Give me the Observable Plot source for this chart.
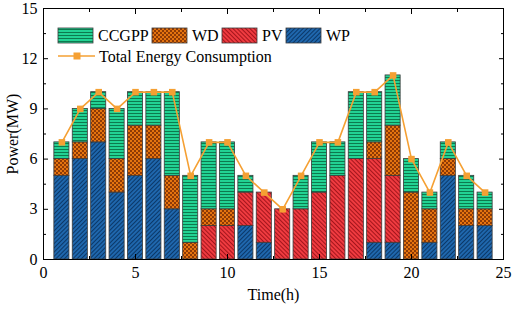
<!DOCTYPE html>
<html><head><meta charset="utf-8">
<script src="https://cdn.jsdelivr.net/npm/d3@7"></script>
<script src="https://cdn.jsdelivr.net/npm/@observablehq/plot@0.6"></script>
<style>
body{margin:0;background:#fff;}
#wrap{position:relative;width:512px;height:311px;}
</style></head><body><div id="wrap"></div>
<script>
const hours = d3.range(1, 25);
const WP    = [5,6,7,4,5,6,3,0,0,0,2,1,0,0,0,0,0,1,1,0,1,5,2,2];
const PV    = [0,0,0,0,0,0,0,0,2,2,2,3,3,3,4,5,6,5,4,0,0,0,0,0];
const WD    = [1,1,2,2,3,2,2,1,1,1,0,0,0,0,0,0,0,1,3,4,2,1,1,1];
const CCGPP = [1,2,1,3,2,2,5,4,4,4,1,0,0,2,3,2,4,3,3,2,1,1,2,1];
const total = [7,9,10,9,10,10,10,5,7,7,5,4,3,5,7,7,10,10,11,6,4,7,5,4];
const xMajor = [0,5,10,15,20,25];
const xMinor = [2.5,7.5,12.5,17.5,22.5];
const yMajor = [0,3,6,9,12,15];
const yMinor = [1.5,4.5,7.5,10.5,13.5];

const seriesOrder = ["WP","PV","WD","CCGPP"];
const seriesVals = {WP, PV, WD, CCGPP};
const rows = [];
hours.forEach((h, i) => {
  let acc = 0;
  for (const s of seriesOrder) {
    const v = seriesVals[s][i];
    if (v > 0) rows.push({hour: h, series: s, y1: acc, y2: acc + v});
    acc += v;
  }
});
const lineData = hours.map((h, i) => ({hour: h, total: total[i]}));

const half = 0.41;
const barMark = s => Plot.rectY(rows.filter(d => d.series === s), {
  x1: d => d.hour - half, x2: d => d.hour + half, y1: "y1", y2: "y2",
  fill: `url(#p-${s})`, stroke: "#3a3a3a", strokeWidth: 0.8
});
const lineColor = "#f5a033";
const font = "Liberation Serif, Times New Roman, serif";

const chart = Plot.plot({
  width: 512, height: 311,
  marginLeft: 43, marginRight: 9, marginTop: 8, marginBottom: 52,
  style: {fontFamily: font, fontSize: "16px", color: "#000", background: "#fff"},
  x: {domain: [0, 25]},
  y: {domain: [0, 15]},
  marks: [
    ...seriesOrder.map(barMark),
    Plot.line(lineData, {x: "hour", y: "total", stroke: lineColor, strokeWidth: 1.6}),
    Plot.dot(lineData, {x: "hour", y: "total", symbol: "square", r: 3.7, fill: lineColor, stroke: "none"}),
    Plot.frame({stroke: "#000", strokeWidth: 1}),
    Plot.axisX({anchor: "bottom", ticks: xMajor, tickSize: -5, tickPadding: 12, label: "Time(h)", labelAnchor: "center", labelOffset: 40, labelArrow: "none", fontSize: 16}),
    Plot.axisX({anchor: "bottom", ticks: xMinor, tickSize: -3, tickFormat: () => "", label: null}),
    Plot.axisX({anchor: "top", ticks: xMajor, tickSize: -5, tickFormat: () => "", label: null}),
    Plot.axisX({anchor: "top", ticks: xMinor, tickSize: -3, tickFormat: () => "", label: null}),
    Plot.axisY({anchor: "left", ticks: yMajor, tickSize: -5, tickPadding: 11, label: "Power(MW)", labelAnchor: "center", labelOffset: 37, labelArrow: "none", fontSize: 16}),
    Plot.axisY({anchor: "left", ticks: yMinor, tickSize: -3, tickFormat: () => "", label: null}),
    Plot.axisY({anchor: "right", ticks: yMajor, tickSize: -5, tickFormat: () => "", label: null}),
    Plot.axisY({anchor: "right", ticks: yMinor, tickSize: -3, tickFormat: () => "", label: null})
  ]
});
document.getElementById("wrap").appendChild(chart);

const svg = d3.select(chart);
const defs = svg.insert("defs", ":first-child");
// CCGPP: horizontal stripes
let p = defs.append("pattern").attr("id", "p-CCGPP").attr("patternUnits", "userSpaceOnUse").attr("width", 4).attr("height", 3);
p.append("rect").attr("width", 4).attr("height", 3).attr("fill", "#22d293");
p.append("rect").attr("y", 2).attr("width", 4).attr("height", 1).attr("fill", "#0c7a4e");
// WD: checker
p = defs.append("pattern").attr("id", "p-WD").attr("patternUnits", "userSpaceOnUse").attr("width", 4).attr("height", 4);
p.append("rect").attr("width", 4).attr("height", 4).attr("fill", "#e5740f");
p.append("rect").attr("width", 2).attr("height", 2).attr("fill", "#8e3a06");
p.append("rect").attr("x", 2).attr("y", 2).attr("width", 2).attr("height", 2).attr("fill", "#8e3a06");
// PV: diagonal "\"
p = defs.append("pattern").attr("id", "p-PV").attr("patternUnits", "userSpaceOnUse").attr("width", 3).attr("height", 3).attr("patternTransform", "rotate(-45)");
p.append("rect").attr("width", 3).attr("height", 3).attr("fill", "#ef3b40");
p.append("rect").attr("width", 1).attr("height", 3).attr("fill", "#a3151c");
// WP: diagonal "/"
p = defs.append("pattern").attr("id", "p-WP").attr("patternUnits", "userSpaceOnUse").attr("width", 3).attr("height", 3).attr("patternTransform", "rotate(45)");
p.append("rect").attr("width", 3).attr("height", 3).attr("fill", "#1f67ad");
p.append("rect").attr("width", 1).attr("height", 3).attr("fill", "#0b3868");

// Legend
const leg = svg.append("g").attr("font-family", font).attr("font-size", 16).attr("text-anchor", "start").attr("fill", "#000");
const legItems = [
  {s: "CCGPP", x: 58}, {s: "WD", x: 152}, {s: "PV", x: 222}, {s: "WP", x: 286}
];
legItems.forEach(it => {
  leg.append("rect").attr("x", it.x).attr("y", 28).attr("width", 35).attr("height", 15)
    .attr("fill", `url(#p-${it.s})`).attr("stroke", "#3a3a3a").attr("stroke-width", 0.8);
  leg.append("text").attr("x", it.x + 40).attr("y", 41).attr("text-anchor", "start").text(it.s);
});
leg.append("line").attr("x1", 58).attr("x2", 95).attr("y1", 56).attr("y2", 56).attr("stroke", lineColor).attr("stroke-width", 1.6);
leg.append("rect").attr("x", 73.5).attr("y", 52.5).attr("width", 7).attr("height", 7).attr("fill", lineColor);
leg.append("text").attr("x", 99).attr("y", 61.5).attr("text-anchor", "start").text("Total Energy Consumption");
</script></body></html>
